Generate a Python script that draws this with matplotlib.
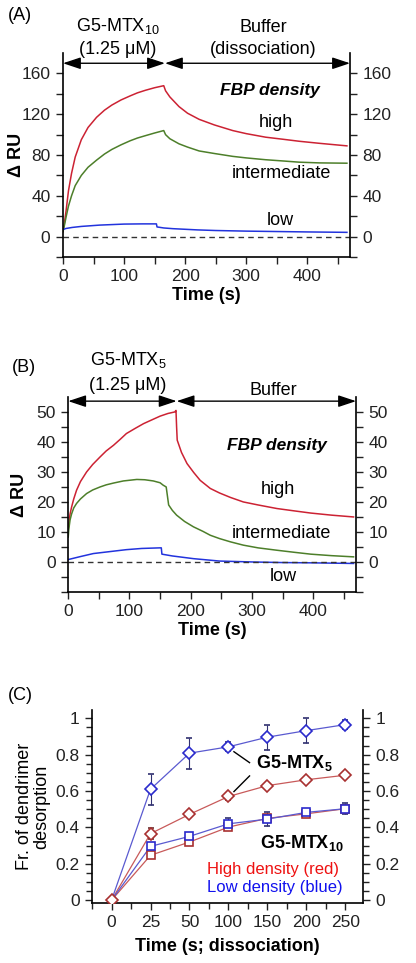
import numpy as np
import matplotlib
matplotlib.use("Agg")
import matplotlib.pyplot as plt
from matplotlib.ticker import MultipleLocator, FixedLocator
from matplotlib.patches import FancyArrowPatch

plt.rcParams['font.family'] = ['Liberation Sans', 'DejaVu Sans']
plt.rcParams['mathtext.fontset'] = 'custom'
plt.rcParams['mathtext.rm'] = 'Liberation Sans'
plt.rcParams['mathtext.bf'] = 'Liberation Sans:bold'

# ---------------- Panel A data (G5-MTX10) ----------------
a_high_t = [0, 2, 5, 9, 14, 20, 30, 41, 55, 68, 80, 95, 110, 122, 135, 150, 165,
            168, 175, 190, 204, 223, 248, 278, 300, 332, 360, 387, 420, 465]
a_high_v = [5, 12, 25, 45, 62, 78, 95, 107, 117, 124, 129, 134, 138, 141, 143.5, 146, 148,
            143, 137, 127.5, 121, 115, 109.5, 104, 101, 97.5, 95.5, 93.5, 91.5, 89]
a_mid_t = [0, 2, 5, 9, 14, 20, 30, 41, 55, 68, 80, 95, 110, 122, 135, 150, 165,
           168, 175, 190, 204, 223, 248, 278, 300, 332, 360, 387, 420, 465]
a_mid_v = [5, 10, 19, 30, 40, 50, 60, 68, 75, 81, 85.5, 90, 94, 96.7, 99, 101.6, 104,
           100, 96, 91, 87.8, 84, 81.5, 78.7, 77.2, 75.4, 74.2, 73, 72.3, 72]
a_low_t = [0, 5, 15, 30, 60, 100, 130, 153, 154, 165, 180, 220, 250, 300, 350, 400, 465]
a_low_v = [7, 8, 9, 10, 11.3, 12.3, 12.5, 12.5, 9.5, 8.5, 7.8, 6.6, 6, 5.4, 5, 4.6, 4.2]

# ---------------- Panel B data (G5-MTX5) ----------------
b_high_t = [0, 1, 3, 5.5, 9, 13.6, 20, 30, 40, 52, 62, 74, 85, 95, 110, 123, 137, 150, 163, 174, 176,
            177, 178, 185, 194, 205, 215.5, 232, 247, 265, 286, 310, 341, 370, 396, 430, 466]
b_high_v = [10.6, 13, 16, 18.3, 21, 23.9, 26.8, 30, 32.5, 35, 37, 38.9, 40.9, 42.8, 44.6, 46.1, 47.4, 48.6, 49.5, 50, 50.5,
            45, 40.6, 36.5, 32.8, 29.8, 27.2, 24.5, 23.0, 21.5, 20, 19, 17.8, 17, 16.3, 15.6, 15]
b_mid_t = [0, 1, 3, 5.5, 9, 13.6, 20, 30, 40, 52, 62, 74, 90, 112, 125, 139, 150, 155, 160, 162, 164,
           170, 177, 190, 204.6, 220, 232, 247, 265, 286, 310, 341, 370, 396, 430, 466]
b_mid_v = [8.3, 11, 14, 16, 18, 19.5, 21, 22.8, 24, 25, 25.7, 26.3, 27, 27.5, 27.4, 27, 26.4, 25.6, 25, 22, 19,
           17.2, 15.6, 13.5, 11.7, 10.2, 8.9, 7.8, 6.7, 5.6, 4.7, 3.9, 3.2, 2.6, 2.1, 1.7]
b_low_t = [0, 10, 20, 41, 70, 95, 120, 150, 152, 153, 170, 204.6, 247, 300, 350, 400, 466]
b_low_v = [0.8, 1.3, 1.8, 2.8, 3.5, 4.1, 4.5, 4.7, 4.7, 2.6, 2.0, 1.1, 0.3, 0.0, -0.2, -0.3, -0.5]

# ---------------- Panel C data ----------------
c_labels = ['0', '25', '50', '100', '150', '200', '250']
c_mtx5_low = [0, 0.61, 0.808, 0.843, 0.896, 0.932, 0.965]
c_mtx5_low_err = [0, 0.085, 0.085, 0.025, 0.068, 0.07, 0.025]
c_mtx5_high = [0, 0.366, 0.472, 0.57, 0.63, 0.662, 0.687]
c_mtx5_high_err = [0, 0.03, 0.015, 0.02, 0.01, 0.008, 0.008]
c_mtx10_low = [0, 0.296, 0.351, 0.42, 0.446, 0.483, 0.503]
c_mtx10_low_err = [0, 0.01, 0.01, 0.03, 0.04, 0.01, 0.03]
c_mtx10_high = [0, 0.247, 0.32, 0.402, 0.45, 0.475, 0.503]
c_mtx10_high_err = [0, 0.005, 0.005, 0.005, 0.005, 0.005, 0.005]

RED = '#cc2233'
GREEN = '#4d7f2a'
BLUE = '#2233dd'
FS = 12.5
TFS = 13

fig = plt.figure(figsize=(4.16, 9.63), dpi=100)


def style_axis(ax):
    ax.spines['top'].set_visible(False)
    for s in ['left', 'right', 'bottom']:
        ax.spines[s].set_linewidth(1.2)
    ax.tick_params(axis='both', which='both', direction='out', right=True, labelright=True,
                   labelsize=FS, width=1.0, colors='#222222')
    ax.tick_params(which='major', length=5)
    ax.tick_params(which='minor', length=5)
    ax.tick_params(axis='y', pad=4)


def arrow(ax, x0, x1, y):
    p = FancyArrowPatch((x0, y), (x1, y), arrowstyle='<|-|>,head_length=0.9,head_width=0.3',
                        mutation_scale=12, color='black', lw=1.0, shrinkA=0, shrinkB=0,
                        clip_on=False, transform=ax.transData)
    ax.add_patch(p)

# ---------------- Panel A ----------------
axA = fig.add_axes([0.1514, 0.7331, 0.6899, 0.2118])
axA.plot(a_high_t, a_high_v, color=RED, lw=1.1)
axA.plot(a_mid_t, a_mid_v, color=GREEN, lw=1.1)
axA.plot(a_low_t, a_low_v, color=BLUE, lw=1.1)
axA.axhline(0, color='#333333', ls=(0, (4, 3)), lw=1.0)
axA.set_xlim(0, 470)
axA.set_ylim(-20, 180)
axA.yaxis.set_major_locator(FixedLocator([0, 40, 80, 120, 160]))
axA.yaxis.set_minor_locator(FixedLocator([-20, 20, 60, 100, 140]))
axA.xaxis.set_major_locator(MultipleLocator(100))
axA.xaxis.set_minor_locator(MultipleLocator(50))
style_axis(axA)
axA.set_xlabel('Time (s)', fontsize=TFS, fontweight='bold', labelpad=2)
axA.set_ylabel('Δ RU', fontsize=TFS, fontweight='bold')
axA.yaxis.set_label_coords(-0.132, 0.5)
arrow(axA, 0, 167, 170)
arrow(axA, 167, 470, 170)
fig.text(118 / 416, 1 - 49 / 963, '(1.25 μM)', fontsize=TFS, ha='center', va='center')
fig.text(118 / 416, 1 - 26 / 963, 'G5-MTX$_{10}$', fontsize=TFS, ha='center', va='center')
fig.text(263 / 416, 1 - 27 / 963, 'Buffer', fontsize=TFS, ha='center', va='center')
fig.text(263 / 416, 1 - 49 / 963, '(dissociation)', fontsize=TFS, ha='center', va='center')
fig.text(8 / 416, 1 - 15 / 963, '(A)', fontsize=TFS, ha='left', va='center')
axA.text(338, 143.6, 'FBP density', fontsize=FS, fontweight='bold', style='italic', ha='center', va='center')
axA.text(349, 112, 'high', fontsize=TFS, ha='center', va='center')
axA.text(357, 62, 'intermediate', fontsize=TFS, ha='center', va='center')
axA.text(356, 16, 'low', fontsize=TFS, ha='center', va='center')

# ---------------- Panel B ----------------
axB = fig.add_axes([0.164, 0.3853, 0.6918, 0.2025])
axB.plot(b_high_t, b_high_v, color=RED, lw=1.1)
axB.plot(b_mid_t, b_mid_v, color=GREEN, lw=1.1)
axB.plot(b_low_t, b_low_v, color=BLUE, lw=1.1)
axB.axhline(0, color='#333333', ls=(0, (4, 3)), lw=1.0)
axB.set_xlim(0, 470)
axB.set_ylim(-10, 55)
axB.yaxis.set_major_locator(FixedLocator([0, 10, 20, 30, 40, 50]))
axB.yaxis.set_minor_locator(FixedLocator([-10, -5, 5, 15, 25, 35, 45]))
axB.xaxis.set_major_locator(MultipleLocator(100))
axB.xaxis.set_minor_locator(MultipleLocator(50))
style_axis(axB)
axB.set_xlabel('Time (s)', fontsize=TFS, fontweight='bold', labelpad=2)
axB.set_ylabel('Δ RU', fontsize=TFS, fontweight='bold')
axB.yaxis.set_label_coords(-0.14, 0.5)
arrow(axB, 0, 177, 53.6)
arrow(axB, 177, 470, 53.6)
fig.text(128 / 416, 1 - 360 / 963, 'G5-MTX$_5$', fontsize=TFS, ha='center', va='center')
fig.text(128 / 416, 1 - 385 / 963, '(1.25 μM)', fontsize=TFS, ha='center', va='center')
fig.text(273 / 416, 1 - 390 / 963, 'Buffer', fontsize=TFS, ha='center', va='center')
fig.text(12 / 416, 1 - 368 / 963, '(B)', fontsize=TFS, ha='left', va='center')
axB.text(340, 38.9, 'FBP density', fontsize=FS, fontweight='bold', style='italic', ha='center', va='center')
axB.text(343, 24, 'high', fontsize=TFS, ha='center', va='center')
axB.text(349, 9.5, 'intermediate', fontsize=TFS, ha='center', va='center')
axB.text(351, -4.8, 'low', fontsize=TFS, ha='center', va='center')

# ---------------- Panel C ----------------
axC = fig.add_axes([0.2212, 0.0623, 0.6514, 0.2004])
xpos = np.arange(len(c_labels))
DRED = '#a83030'
DBLUE = '#2a2acc'
axC.plot(xpos, c_mtx10_high, color='#c85a5a', lw=0.9, zorder=2)
axC.plot(xpos, c_mtx5_high, color='#c85a5a', lw=0.9, zorder=2)
axC.plot(xpos, c_mtx10_low, color='#5a5ad0', lw=0.9, zorder=2)
axC.plot(xpos, c_mtx5_low, color='#5a5ad0', lw=0.9, zorder=2)
axC.errorbar(xpos[1:], c_mtx10_high[1:], yerr=c_mtx10_high_err[1:], fmt='s', ms=5.5, mfc='white',
             mec=DRED, mew=1.2, ecolor='#6a3030', elinewidth=0.8, capsize=2.5, zorder=3)
axC.errorbar(xpos[1:], c_mtx10_low[1:], yerr=c_mtx10_low_err[1:], fmt='s', ms=5.5, mfc='white',
             mec=DBLUE, mew=1.2, ecolor='#303070', elinewidth=0.8, capsize=2.5, zorder=3)
axC.errorbar(xpos[1:], c_mtx5_high[1:], yerr=c_mtx5_high_err[1:], fmt='D', ms=6.5, mfc='white',
             mec=DRED, mew=1.2, ecolor='#6a3030', elinewidth=0.8, capsize=2.5, zorder=3)
axC.errorbar(xpos[1:], c_mtx5_low[1:], yerr=c_mtx5_low_err[1:], fmt='D', ms=6.5, mfc='white',
             mec=DBLUE, mew=1.2, ecolor='#303070', elinewidth=0.8, capsize=2.5, zorder=3)
axC.plot([xpos[0]], [c_mtx5_high[0]], 'D', ms=6.5, mfc='white', mec=DRED, mew=1.2, zorder=4)
axC.set_xlim(-0.5, 6.45)
axC.set_ylim(-0.015, 1.045)
axC.xaxis.set_major_locator(FixedLocator(list(xpos)))
axC.xaxis.set_minor_locator(FixedLocator(list(np.arange(-0.5, 6.5, 1.0))))
axC.set_xticklabels(c_labels)
axC.yaxis.set_major_locator(FixedLocator([0, 0.2, 0.4, 0.6, 0.8, 1.0]))
axC.yaxis.set_minor_locator(MultipleLocator(0.05))
axC.set_yticklabels(['0', '0.2', '0.4', '0.6', '0.8', '1'])
style_axis(axC)
axC.tick_params(which='minor', length=4)
axC.set_xlabel('Time (s; dissociation)', fontsize=TFS, fontweight='bold', labelpad=6)
axC.set_ylabel('Fr. of dendrimer\ndesorption', fontsize=TFS, linespacing=1.0)
axC.yaxis.set_label_coords(-0.155, 0.5)
fig.text(8 / 416, 1 - 695 / 963, '(C)', fontsize=TFS, ha='left', va='center')
axC.text(4.69, 0.754, 'G5-MTX$_\\mathbf{5}$', fontsize=TFS, fontweight='bold', ha='center', va='center')
axC.text(4.87, 0.317, 'G5-MTX$_\\mathbf{10}$', fontsize=TFS, fontweight='bold', ha='center', va='center')
axC.text(4.13, 0.169, 'High density (red)', fontsize=FS - 0.5, color='#ee1111', ha='center', va='center')
axC.text(4.2, 0.071, 'Low density (blue)', fontsize=FS - 0.5, color='#1111ee', ha='center', va='center')
axC.plot([3.14, 3.54], [0.816, 0.756], color='black', lw=1.0)
axC.plot([3.14, 3.54], [0.597, 0.683], color='black', lw=1.0)

fig.savefig('out.png', dpi=100)
